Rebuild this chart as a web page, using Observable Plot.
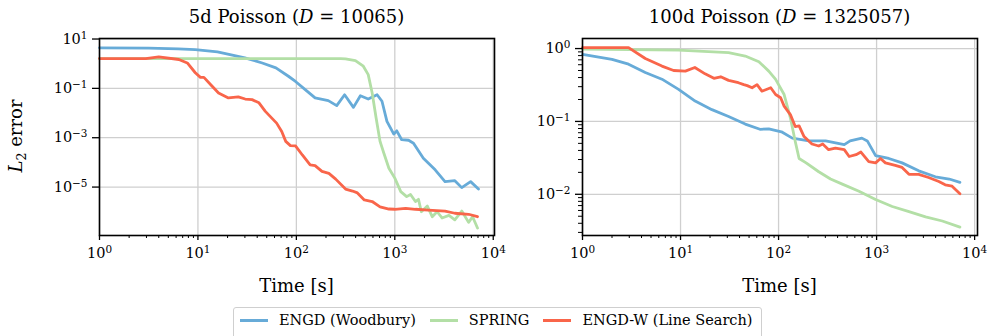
<!DOCTYPE html>
<html>
<head>
<meta charset="utf-8">
<script src="https://cdn.jsdelivr.net/npm/d3@7"></script>
<script src="https://cdn.jsdelivr.net/npm/@observablehq/plot@0.6"></script>
<style>
  html, body { margin: 0; padding: 0; background: white; }
  #root { position: relative; width: 989px; height: 336px; overflow: hidden; font-family: "DejaVu Serif", serif; color: black; }
  .abs { position: absolute; }
  .title { font-size: 18px; line-height: 18px; white-space: nowrap; transform: translateX(-50%); top: 8px; }
  .xlabel { font-size: 18px; line-height: 18px; white-space: nowrap; transform: translateX(-50%); top: 277px; }
  .ylabel { font-size: 18px; line-height: 18px; white-space: nowrap; left: 19px; top: 136px; transform: translate(-50%, -50%) rotate(-90deg); }
  .legend { left: 233px; top: 307px; width: 529px; height: 36px; border: 1px solid #cfcfcf; border-radius: 3px; box-sizing: border-box; display: flex; align-items: flex-start; padding-top: 4px; font-family: "DejaVu Serif", serif; font-size: 14.5px; line-height: 17px; white-space: nowrap; }
  .sw { display: inline-block; width: 28px; height: 3px; margin-left: 6px; margin-right: 11px; }
  .item { display: flex; align-items: center; margin-right: 8px; }
</style>
</head>
<body>
<div id="root"></div>
<script>
// ---------- data ----------
const seriesNames = ["ENGD (Woodbury)", "SPRING", "ENGD-W (Line Search)"];
const seriesColors = ["#67abd8", "#b3dfa6", "#f9654a"];

// 5d Poisson
const t5Woodbury = [1, 3.16, 6.3, 9.4, 15.8, 30, 45, 62, 83, 98, 123, 155, 211, 257, 309, 380, 447, 537, 661, 741, 832, 977, 1047, 1175, 1380, 1549, 1950, 2570, 3236, 4074, 4786, 5890, 7080];
const e5Woodbury = [4.4, 4.3, 4.0, 3.7, 3.0, 1.72, 1.07, 0.68, 0.31, 0.19, 0.089, 0.041, 0.032, 0.020, 0.055, 0.017, 0.050, 0.037, 0.055, 0.030, 0.0046, 0.0014, 0.0019, 0.00083, 0.00079, 0.0006, 0.000148, 5.0e-5, 1.66e-5, 1.82e-5, 9.5e-6, 1.66e-5, 8.3e-6];
const t5Spring = [1, 282, 316, 398, 479, 537, 589, 646, 708, 776, 871, 1000, 1150, 1320, 1445, 1620, 1740, 1860, 2140, 2400, 2690, 3020, 3550, 4070, 4790, 5620, 6170, 6920];
const e5Spring = [1.61, 1.61, 1.58, 1.34, 0.79, 0.36, 0.065, 0.0063, 0.00071, 0.00023, 5.8e-5, 2.3e-5, 6.5e-6, 4.1e-6, 5.0e-6, 2.6e-6, 3.2e-6, 1.0e-6, 1.7e-6, 6.3e-7, 1.0e-6, 5.6e-7, 7.1e-7, 4.7e-7, 1.07e-6, 3.7e-7, 6.3e-7, 2.2e-7];
const t5LineSearch = [1, 2.95, 4.0, 6.4, 7.8, 9.4, 10.6, 11.5, 13.5, 16.2, 20.4, 25.7, 30.2, 35.5, 41.7, 48.4, 63, 71, 78, 87, 98, 115, 138, 155, 182, 214, 251, 316, 372, 417, 490, 589, 708, 871, 1000, 1290, 1620, 2190, 3240, 4070, 5620, 6920];
const e5LineSearch = [1.61, 1.61, 1.89, 1.48, 1.07, 0.43, 0.28, 0.28, 0.141, 0.065, 0.041, 0.045, 0.037, 0.035, 0.026, 0.0117, 0.0039, 0.0018, 0.00071, 0.00048, 0.00047, 0.0002, 7.9e-5, 7.4e-5, 4.3e-5, 3.6e-5, 2.1e-5, 8.3e-6, 6.9e-6, 5.8e-6, 3.0e-6, 2.6e-6, 1.58e-6, 1.29e-6, 1.26e-6, 1.38e-6, 1.26e-6, 1.17e-6, 1.07e-6, 8.7e-7, 7.9e-7, 6.3e-7];

// 100d Poisson
const t100Woodbury = [1, 2.0, 2.95, 4.37, 6.46, 9.55, 14.1, 20.9, 30.9, 45.7, 64.6, 79.4, 107, 138, 204, 302, 468, 537, 708, 804, 977, 1333, 1820, 2690, 3980, 5500, 7080];
const e100Woodbury = [0.83, 0.71, 0.61, 0.47, 0.38, 0.275, 0.19, 0.145, 0.117, 0.092, 0.078, 0.079, 0.072, 0.059, 0.054, 0.054, 0.048, 0.054, 0.059, 0.054, 0.034, 0.031, 0.027, 0.021, 0.0174, 0.0162, 0.0146];
const t100Spring = [1, 9.5, 30.9, 45.7, 63, 79.4, 93, 114, 132, 148, 162, 191, 257, 339, 447, 661, 977, 1445, 2140, 3160, 4680, 7080];
const e100Spring = [0.98, 0.95, 0.88, 0.79, 0.66, 0.49, 0.38, 0.234, 0.112, 0.053, 0.031, 0.027, 0.0204, 0.0162, 0.0138, 0.011, 0.0085, 0.0068, 0.0058, 0.0049, 0.0043, 0.00355];
const t100LineSearch = [1, 2.95, 4.37, 6.46, 8.5, 11.2, 14.0, 17.8, 21.9, 25.7, 30.9, 38.9, 44.2, 47.9, 53.7, 60.3, 67.6, 83.2, 93.3, 105, 114, 132, 148, 162, 182, 219, 257, 282, 324, 380, 468, 525, 617, 692, 832, 977, 1096, 1230, 1550, 1820, 2140, 2690, 3390, 4315, 5010, 5890, 7080];
const e100LineSearch = [1.03, 1.03, 0.73, 0.575, 0.50, 0.49, 0.55, 0.45, 0.39, 0.41, 0.366, 0.34, 0.32, 0.31, 0.29, 0.32, 0.26, 0.29, 0.234, 0.211, 0.162, 0.124, 0.085, 0.087, 0.062, 0.049, 0.046, 0.049, 0.041, 0.043, 0.041, 0.033, 0.035, 0.038, 0.028, 0.027, 0.031, 0.027, 0.025, 0.0234, 0.0188, 0.0188, 0.017, 0.015, 0.0135, 0.0129, 0.0102];

// tick values
const xMajorTicks = [1, 10, 100, 1000, 10000];
const yMajorTicks5 = [10, 0.1, 0.001, 0.00001];
const yMajorTicks100 = [1, 0.1, 0.01];

// ---------- helpers ----------
function minorTicks(lo, hi) {
  const out = [];
  for (let p = Math.floor(Math.log10(lo)); p <= Math.ceil(Math.log10(hi)); p++) {
    for (let m = 2; m <= 9; m++) {
      const v = m * Math.pow(10, p);
      if (v > lo && v < hi) out.push(v);
    }
  }
  return out;
}
const powFmt = d => "10^" + String(Math.round(Math.log10(d))).replace("-", "\u2212");

function rows(ts, es) { return ts.map((t, i) => ({t, e: es[i]})); }

function supify(svg) {
  d3.select(svg).selectAll("text").each(function () {
    const s = this.textContent;
    if (!s.includes("^")) return;
    const [b, e] = s.split("^");
    this.textContent = b;
    const ts = document.createElementNS("http://www.w3.org/2000/svg", "tspan");
    ts.setAttribute("dy", "-0.48em");
    ts.setAttribute("font-size", "0.72em");
    ts.textContent = e;
    this.appendChild(ts);
  });
}

function panel({width, marginLeft, marginRight, xDomain, yDomain, yTicks, yMinor, series}) {
  const marks = [
    Plot.gridX(xMajorTicks, {stroke: "#cfcfcf", strokeOpacity: 1, strokeWidth: 1.3}),
    Plot.gridY(yTicks, {stroke: "#cfcfcf", strokeOpacity: 1, strokeWidth: 1.3}),
  ];
  series.forEach(([ts, es], i) => {
    marks.push(Plot.line(rows(ts, es), {x: "t", y: "e", stroke: seriesColors[i], strokeWidth: 2.8, strokeOpacity: 1}));
  });
  marks.push(
    Plot.axisX(minorTicks(xDomain[0], xDomain[1]), {anchor: "bottom", tickSize: 3, tickFormat: () => "", label: null, strokeWidth: 1}),
    Plot.axisX(xMajorTicks, {anchor: "bottom", tickSize: 5, tickPadding: 7, tickFormat: powFmt, label: null, strokeWidth: 1.3, fontSize: 14.5}),
    Plot.axisY(yTicks, {anchor: "left", tickSize: 7, tickPadding: 5, tickFormat: powFmt, label: null, strokeWidth: 1.3, fontSize: 14.5})
  );
  if (yMinor) marks.push(Plot.axisY(yMinor, {anchor: "left", tickSize: 4, tickFormat: () => "", label: null, strokeWidth: 1}));
  marks.push(Plot.frame({stroke: "black", strokeWidth: 1.6}));
  const svg = Plot.plot({
    width, height: 300,
    marginLeft, marginRight, marginTop: 38, marginBottom: 300 - 235,
    x: {type: "log", domain: xDomain},
    y: {type: "log", domain: yDomain},
    style: {fontFamily: "DejaVu Serif", fontSize: "14.5px", color: "black", background: "transparent", overflow: "visible"},
    marks
  });
  supify(svg);
  return svg;
}

const root = document.getElementById("root");

const left = panel({
  width: 500, marginLeft: 99, marginRight: 6,
  xDomain: [1, 10300], yDomain: [1.09e-7, 10.5],
  yTicks: yMajorTicks5, yMinor: null,
  series: [[t5Woodbury, e5Woodbury], [t5Spring, e5Spring], [t5LineSearch, e5LineSearch]]
});
left.style.position = "absolute"; left.style.left = "0px"; left.style.top = "0px";
root.appendChild(left);

const right = panel({
  width: 489, marginLeft: 82, marginRight: 12,
  xDomain: [1, 10700], yDomain: [0.00272, 1.374],
  yTicks: yMajorTicks100, yMinor: minorTicks(0.00272, 1.374),
  series: [[t100Woodbury, e100Woodbury], [t100Spring, e100Spring], [t100LineSearch, e100LineSearch]]
});
right.style.position = "absolute"; right.style.left = "500px"; right.style.top = "0px";
root.appendChild(right);

// titles and labels
function addDiv(cls, html, left) {
  const d = document.createElement("div");
  d.className = "abs " + cls;
  d.innerHTML = html;
  if (left != null) d.style.left = left + "px";
  root.appendChild(d);
}
addDiv("title", "5d Poisson (<i>D</i> = 10065)", 296.5);
addDiv("title", "100d Poisson (<i>D</i> = 1325057)", 779.5);
addDiv("xlabel", "Time [s]", 296.5);
addDiv("xlabel", "Time [s]", 779.5);
addDiv("ylabel", "<i>L</i><sub style=\"font-size:0.7em\">2</sub> error", null);

// legend
const leg = document.createElement("div");
leg.className = "abs legend";
seriesNames.forEach((n, i) => {
  const it = document.createElement("div");
  it.className = "item";
  const sw = document.createElement("span");
  sw.className = "sw";
  sw.style.background = seriesColors[i];
  const tx = document.createElement("span");
  tx.textContent = n;
  it.appendChild(sw); it.appendChild(tx);
  leg.appendChild(it);
});
root.appendChild(leg);
</script>
</body>
</html>
